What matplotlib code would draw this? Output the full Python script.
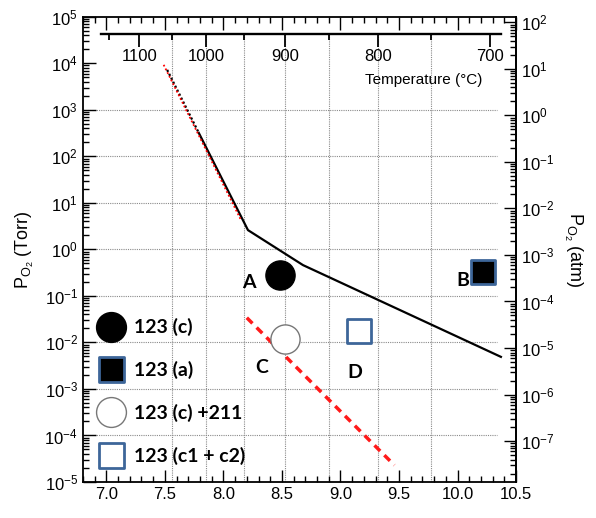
import numpy as np
import matplotlib
matplotlib.use('Agg')
import matplotlib.pyplot as plt
from matplotlib.lines import Line2D
from matplotlib.markers import MarkerStyle
from matplotlib.ticker import MultipleLocator, FixedLocator, LogLocator, NullFormatter, FormatStrFormatter

plt.rcParams['font.family'] = ['Liberation Sans', 'DejaVu Sans']
plt.rcParams['mathtext.fontset'] = 'custom'
plt.rcParams['mathtext.rm'] = 'Liberation Sans'
plt.rcParams['mathtext.it'] = 'Liberation Sans:italic'

# x axis is 10^4/T (K), y is P_O2 in Torr
bound_x = [7.79, 8.21, 8.68, 10.37]
bound_p = [320, 2.6, 0.46, 0.0049]
ext_x = [7.52, 7.79]
ext_p = [7240, 320]
red_dot_x = [7.49, 8.15]
red_dot_p = [9300, 4.3]
red_dash_x = [8.2, 9.46]
red_dash_p = [0.034, 2.3e-5]

pt_names = ['A', 'B', 'C', 'D']
pt_x = [8.48, 10.22, 8.53, 9.16]
pt_p = [0.28, 0.33, 0.012, 0.0177]

leg_labels = ['123 (c)', '123 (a)', '123 (c) +211', '123 (c1 + c2)']

temp_major = [1100, 1000, 900, 800, 700]
temp_minor = [1150, 1050, 950, 850, 750]
temp_grid = [1050, 1000, 950, 900, 850, 800, 750]
p_grid = [1e-4, 1e-3, 1e-2, 1e-1, 1e0, 1e1, 1e2, 1e3]

blue = '#3d6699'
# marker, face, edge, size, edge width
styles = [('o', 'black', 'black', 21, 1.0),
          ('s', 'black', blue, 17.5, 2.0),
          ('o', 'white', '#777777', 21, 1.0),
          ('s', 'white', blue, 17.5, 2.0)]
# offsets of the letters from their points (points)
pt_off = [(-22, -5), (-15, -6), (-17, -21), (-3, -30)]


def t2x(T):
    T = np.asarray(T, dtype=float)
    with np.errstate(divide='ignore', invalid='ignore'):
        return 1e4 / (T + 273.0)


def x2t(x):
    x = np.asarray(x, dtype=float)
    with np.errstate(divide='ignore', invalid='ignore'):
        return 1e4 / x - 273.0


fig = plt.figure(figsize=(5.96, 5.18), dpi=100)
ax = fig.add_axes([0.139, 0.0695, 0.727, 0.898])
ax.set_yscale('log')
ax.set_xlim(6.8, 10.5)
ax.set_ylim(1e-5, 1e5)

# grid
ax.vlines(t2x(temp_grid), 1e-5, 4.3e4, colors='#8a8a8a', linestyles=(0, (1, 1)), lw=0.8, zorder=0)
ax.hlines(p_grid, 6.8, 10.34, colors='#8a8a8a', linestyles=(0, (1, 1)), lw=0.8, zorder=0)

ax.plot(bound_x, bound_p, color='black', lw=1.6, zorder=3)
ax.plot(ext_x, ext_p, color='black', lw=1.6, ls=(0, (1, 1)), zorder=3)
ax.plot(red_dot_x, red_dot_p, color='red', lw=1.3, ls=(0, (1, 1.3)), zorder=3)
ax.plot(red_dash_x, red_dash_p, color='#ff1a1a', lw=2.5, ls=(0, (2.3, 1.7)), zorder=3)

for i in range(len(pt_names)):
    m, fc, ec, ms, mew = styles[i]
    ax.plot(pt_x[i], pt_p[i], ls='none', marker=MarkerStyle(m, joinstyle='round'),
            ms=ms, mfc=fc, mec=ec, mew=mew, zorder=5)
    ax.annotate(pt_names[i], (pt_x[i], pt_p[i]), xytext=pt_off[i], textcoords='offset points',
                ha='center', va='center', fontsize=14, fontweight='bold', family='Lato')

handles = []
for m, fc, ec, ms, mew in styles:
    handles.append(Line2D([], [], ls='none', marker=MarkerStyle(m, joinstyle='round'),
                          ms=ms + 0.5, mfc=fc, mec=ec, mew=mew))
ax.legend(handles, leg_labels, loc='upper left', bbox_to_anchor=(0.037, 0.352), frameon=False,
          prop={'family': 'Lato', 'weight': 'bold', 'size': 14}, labelspacing=1.27,
          handlelength=1.2, handletextpad=0.6, borderpad=0, borderaxespad=0)

# ticks main axes
ax.xaxis.set_major_locator(MultipleLocator(0.5))
ax.xaxis.set_minor_locator(MultipleLocator(0.1))
ax.xaxis.set_major_formatter(FormatStrFormatter('%.1f'))
ax.yaxis.set_major_locator(LogLocator(base=10, numticks=20))
ax.yaxis.set_minor_locator(LogLocator(base=10, subs=np.arange(2, 10), numticks=20))
ax.yaxis.set_minor_formatter(NullFormatter())
ax.tick_params(which='both', direction='in', top=True, right=False, labelsize=12, width=1)
ax.tick_params(which='major', length=9)
ax.tick_params(which='minor', length=4.5)
for s in ax.spines.values():
    s.set_linewidth(1.3)

ax.set_ylabel(r'P$_{\mathregular{O_2}}$ (Torr)', fontsize=13, labelpad=6)

# right axis in atm
sy = ax.secondary_yaxis('right', functions=(lambda p: np.asarray(p) / 760.0,
                                            lambda p: np.asarray(p) * 760.0))
sy.yaxis.set_major_locator(LogLocator(base=10, numticks=20))
sy.yaxis.set_minor_locator(LogLocator(base=10, subs=np.arange(2, 10), numticks=20))
sy.yaxis.set_minor_formatter(NullFormatter())
sy.tick_params(which='both', direction='in', labelsize=12, width=1)
sy.tick_params(which='major', length=9)
sy.tick_params(which='minor', length=4.5)
sy.spines['right'].set_linewidth(1.3)
sy.set_ylabel(r'P$_{\mathregular{O_2}}$ (atm)', fontsize=13, rotation=270, labelpad=21)

# temperature axis inside the top of the plot
tx = ax.secondary_xaxis(0.963, functions=(x2t, t2x))
tx.set_alignment('bottom')
tx.xaxis.set_major_locator(FixedLocator(temp_major))
tx.xaxis.set_minor_locator(FixedLocator(temp_minor))
tx.xaxis.set_minor_formatter(NullFormatter())
tx.tick_params(which='both', direction='out', width=1.3, labelsize=12, pad=2)
tx.tick_params(which='major', length=9)
tx.tick_params(which='minor', length=4.5)
tx.spines['bottom'].set_linewidth(1.7)
tx.spines['bottom'].set_bounds(1164, 691)

ax.text(9.71, 0.865, 'Temperature (°C)', transform=ax.get_xaxis_transform(),
        ha='center', va='center', fontsize=11)

fig.savefig('out.png', dpi=100)
